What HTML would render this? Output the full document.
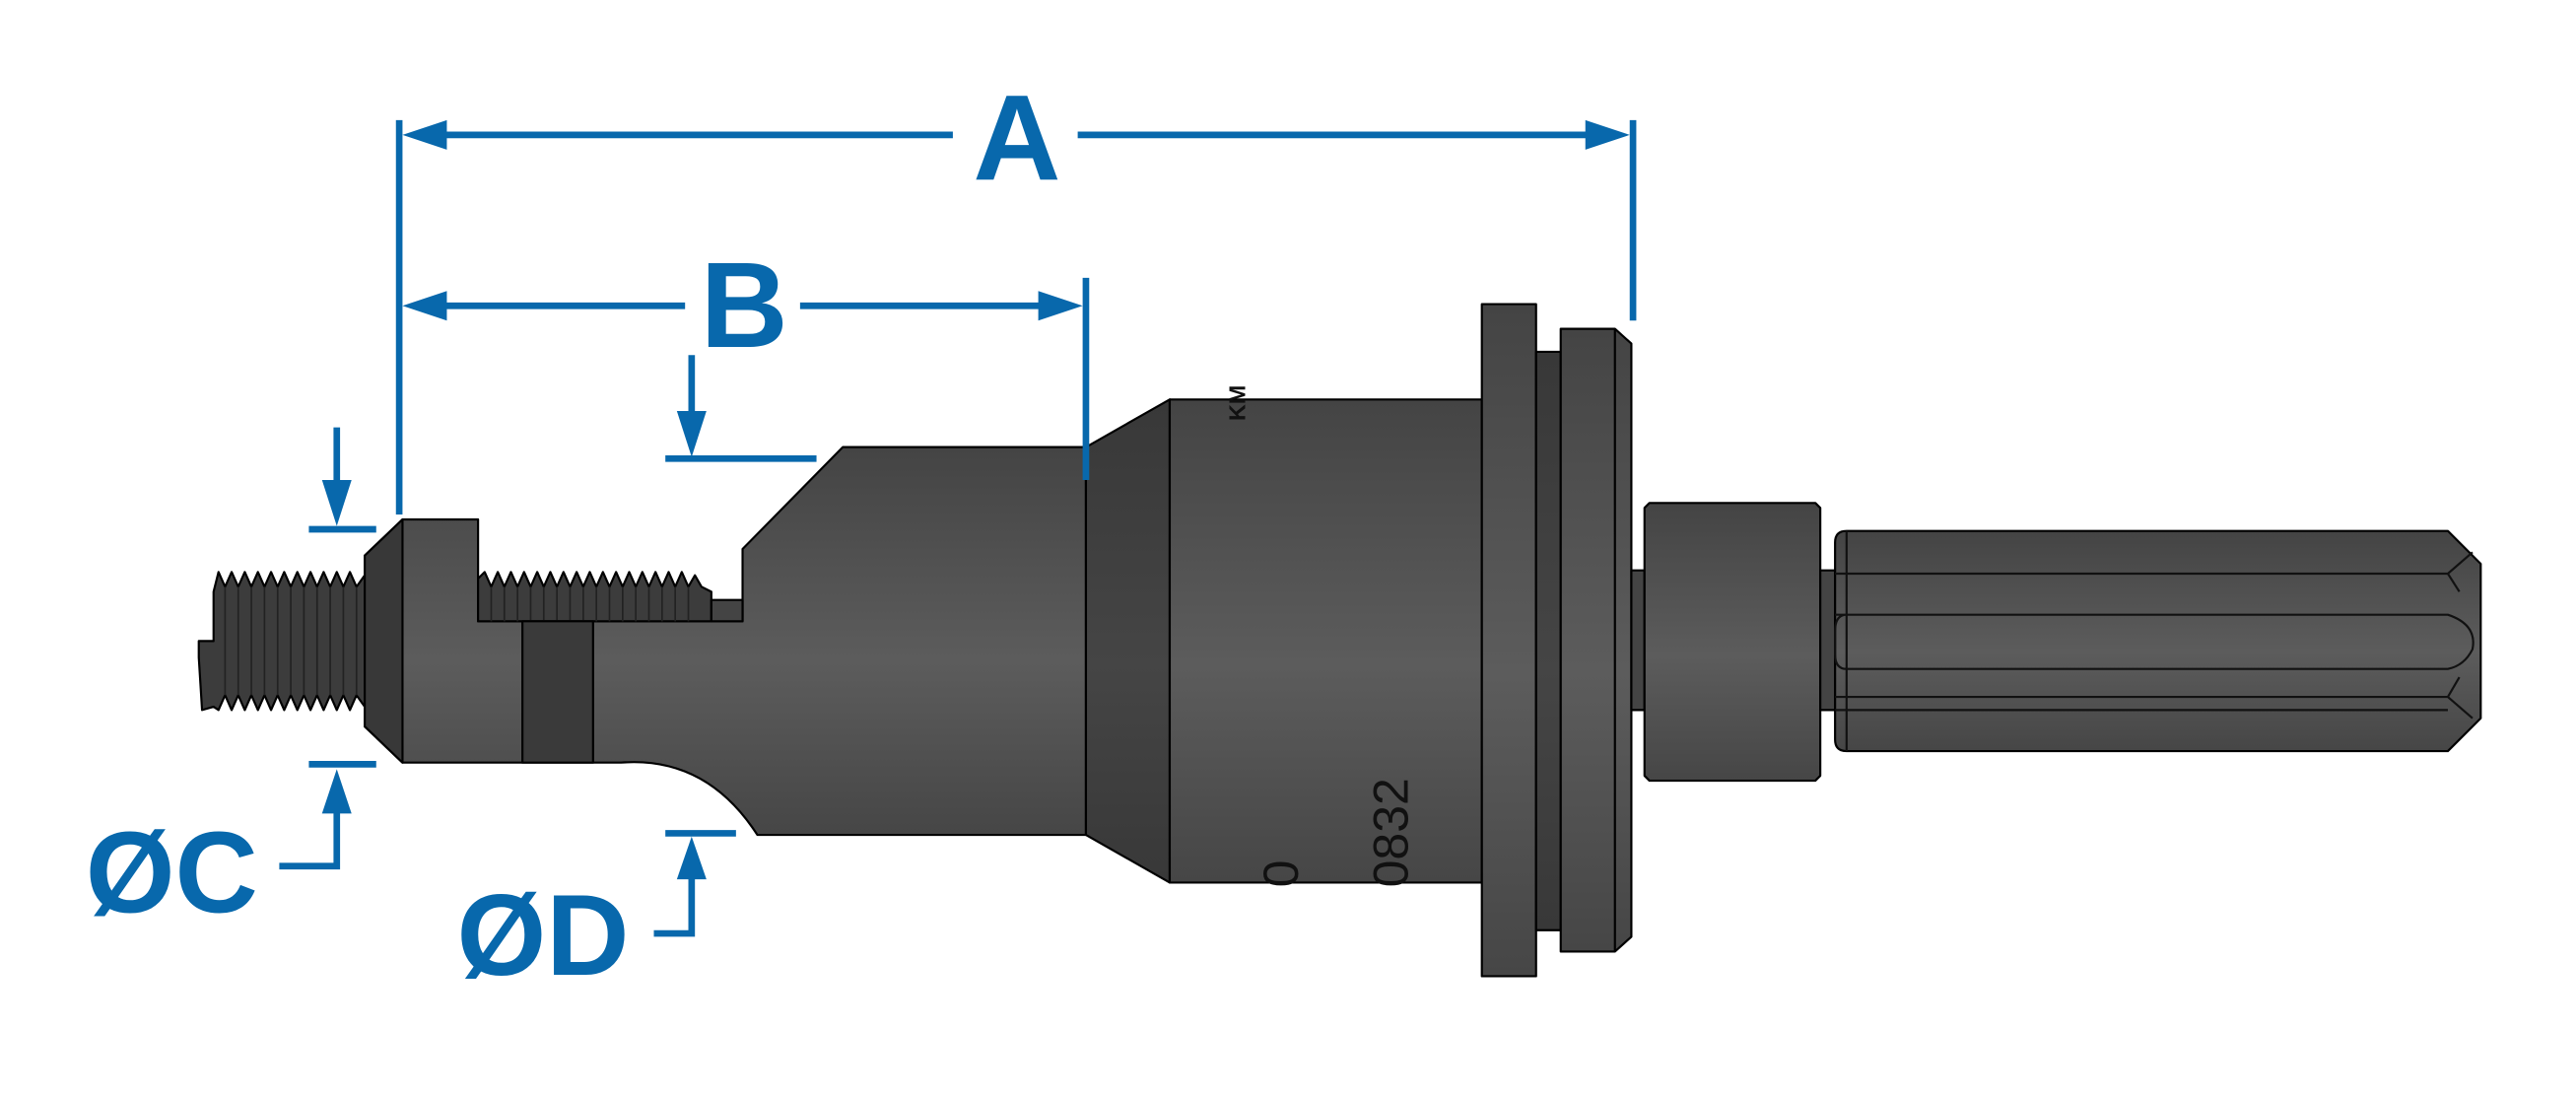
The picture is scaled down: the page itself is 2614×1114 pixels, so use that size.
<!DOCTYPE html>
<html><head><style>html,body{margin:0;padding:0;background:#fff}svg{display:block}</style></head>
<body>
<svg width="2614" height="1114" viewBox="0 0 1568 668" xmlns="http://www.w3.org/2000/svg">
<defs>
<linearGradient id="g" x1="0" y1="0" x2="0" y2="1">
<stop offset="0" stop-color="#444"/><stop offset="0.55" stop-color="#5c5c5c"/><stop offset="1" stop-color="#464646"/>
</linearGradient>
<linearGradient id="gd" x1="0" y1="0" x2="0" y2="1">
<stop offset="0" stop-color="#383838"/><stop offset="0.55" stop-color="#454545"/><stop offset="1" stop-color="#383838"/>
</linearGradient>
</defs>
<g stroke="#000" stroke-width="1.3" stroke-linejoin="round">
<!-- left thread -->
<path d="M121,390 L130,390 L130,360 L133,348 L137,357 L141,348 L145,357 L149,348 L153,357 L157,348 L161,357 L165,348 L169,357 L173,348 L177,357 L181,348 L185,357 L189,348 L193,357 L197,348 L201,357 L205,348 L209,357 L213,348 L217,357 L222,350 L222,430 L217,423 L213,432 L209,423 L205,432 L201,423 L197,432 L193,423 L189,432 L185,423 L181,432 L177,423 L173,432 L169,423 L165,432 L161,423 L157,432 L153,423 L149,432 L145,423 L141,432 L137,423 L133,432 L130,430 L123,432 L121,400 Z" fill="#3c3c3c"/>
<g stroke="#222" stroke-width="1">
<line x1="137" y1="357" x2="137" y2="423"/><line x1="145" y1="357" x2="145" y2="423"/><line x1="153" y1="357" x2="153" y2="423"/><line x1="161" y1="357" x2="161" y2="423"/><line x1="169" y1="357" x2="169" y2="423"/><line x1="177" y1="357" x2="177" y2="423"/><line x1="185" y1="357" x2="185" y2="423"/><line x1="193" y1="357" x2="193" y2="423"/><line x1="201" y1="357" x2="201" y2="423"/><line x1="209" y1="357" x2="209" y2="423"/><line x1="217" y1="357" x2="217" y2="423"/>
</g>
<!-- head and body -->
<path d="M222,338 L245,316 L291,316 L291,378 L452,378 L452,334 L513,272 L661,272 L661,508 L461,508 Q430,460 378,464 L245,464 L222,442 Z" fill="url(#g)"/>
<path d="M291,378 L291,352 L295,348 L299,357 L303,348 L307,357 L311,348 L315,357 L319,348 L323,357 L327,348 L331,357 L335,348 L339,357 L343,348 L347,357 L351,348 L355,357 L359,348 L363,357 L367,348 L371,357 L375,348 L379,357 L383,348 L387,357 L391,348 L395,357 L399,348 L403,357 L407,348 L411,357 L415,348 L419,357 L423,350 L427,357 L433,360 L433,378 Z" fill="#3c3c3c"/>
<g stroke="#222" stroke-width="1">
<line x1="299" y1="357" x2="299" y2="378"/><line x1="307" y1="357" x2="307" y2="378"/><line x1="315" y1="357" x2="315" y2="378"/><line x1="323" y1="357" x2="323" y2="378"/><line x1="331" y1="357" x2="331" y2="378"/><line x1="339" y1="357" x2="339" y2="378"/><line x1="347" y1="357" x2="347" y2="378"/><line x1="355" y1="357" x2="355" y2="378"/><line x1="363" y1="357" x2="363" y2="378"/><line x1="371" y1="357" x2="371" y2="378"/><line x1="379" y1="357" x2="379" y2="378"/><line x1="387" y1="357" x2="387" y2="378"/><line x1="395" y1="357" x2="395" y2="378"/><line x1="403" y1="357" x2="403" y2="378"/><line x1="411" y1="357" x2="411" y2="378"/><line x1="419" y1="357" x2="419" y2="378"/>
</g>
<rect x="433" y="365" width="19" height="13" fill="#444"/>
<path d="M222,338 L245,316 L245,464 L222,442 Z" fill="#383838"/>
<rect x="318" y="378" width="43" height="86" fill="#3a3a3a"/>
<!-- cone -->
<path d="M661,272 L712,243 L712,537 L661,508 Z" fill="url(#gd)"/>
<rect x="712" y="243" width="190" height="294" fill="url(#g)"/>
<rect x="902" y="185" width="33" height="409" fill="url(#g)"/>
<rect x="935" y="214" width="15" height="352" fill="url(#gd)"/>
<path d="M950,200 L983,200 L993,209 L993,570 L983,579 L950,579 Z" fill="url(#g)"/>
<line x1="983" y1="200" x2="983" y2="579"/>
<rect x="993" y="347" width="8" height="85" fill="#444"/>
<path d="M1001,309 L1004,306 L1105,306 L1108,309 L1108,472 L1105,475 L1004,475 L1001,472 Z" fill="url(#g)"/>
<rect x="1108" y="347" width="9" height="85" fill="#444"/>
<path d="M1117,330 Q1117,323 1124,323 L1490,323 L1510,343 L1510,437 L1490,457 L1124,457 Q1117,457 1117,450 Z" fill="url(#g)"/>
<g fill="none" stroke="#111">
<line x1="1124" y1="323" x2="1124" y2="457"/>
<path d="M1117,349 L1490,349 L1505,336"/>
<path d="M1117,374 L1490,374 Q1508,380 1505,395 Q1500,405 1490,407 L1124,407 Q1117,407 1117,398 L1117,384 Q1117,374 1124,374"/>
<path d="M1117,424 L1490,424 L1505,437"/>
<path d="M1117,432 L1490,432"/>
<path d="M1490,349 L1497,360"/>
<path d="M1490,424 L1497,412"/>
</g>
</g>
<text transform="translate(758,256) rotate(-90)" font-family="Liberation Sans, sans-serif" font-size="14" font-weight="bold" fill="#111">KM</text>
<text transform="translate(857,540) rotate(-90)" font-family="Liberation Sans, sans-serif" font-size="30" fill="#111">0832</text>
<text transform="translate(790,540) rotate(-90)" font-family="Liberation Sans, sans-serif" font-size="30" fill="#111">0</text>
<!-- dimensions -->
<g stroke="#0868ac" stroke-width="4" fill="none">
<line x1="243" y1="73" x2="243" y2="313"/>
<line x1="994" y1="73" x2="994" y2="195"/>
<line x1="661" y1="169" x2="661" y2="292"/>
<line x1="268" y1="82" x2="580" y2="82"/><line x1="656" y1="82" x2="968" y2="82"/>
<line x1="268" y1="186" x2="417" y2="186"/><line x1="487" y1="186" x2="635" y2="186"/>
<line x1="421" y1="216" x2="421" y2="260"/><line x1="405" y1="279" x2="497" y2="279"/>
<line x1="205" y1="260" x2="205" y2="300"/><line x1="188" y1="322" x2="229" y2="322"/>
<line x1="188" y1="465" x2="229" y2="465"/>
<polyline points="205,488 205,527 170,527"/>
<line x1="405" y1="507" x2="448" y2="507"/>
<polyline points="421,530 421,568 398,568"/>
</g>
<g fill="#0868ac">
<polygon points="245,82 272,73 272,91"/><polygon points="992,82 965,73 965,91"/>
<polygon points="245,186 272,177 272,195"/><polygon points="659,186 632,177 632,195"/>
<polygon points="421,278 412,250 430,250"/>
<polygon points="205,320 196,292 214,292"/>
<polygon points="205,468 196,495 214,495"/>
<polygon points="421,509 412,535 430,535"/>
</g>
<g font-family="Liberation Sans, sans-serif" font-weight="bold" fill="#0868ac">
<text x="619" y="109" font-size="74" text-anchor="middle">A</text>
<text x="453" y="211" font-size="74" text-anchor="middle">B</text>
<text x="52" y="555" font-size="70">ØC</text>
<text x="278" y="593" font-size="70">ØD</text>
</g>
</svg>
</body></html>
